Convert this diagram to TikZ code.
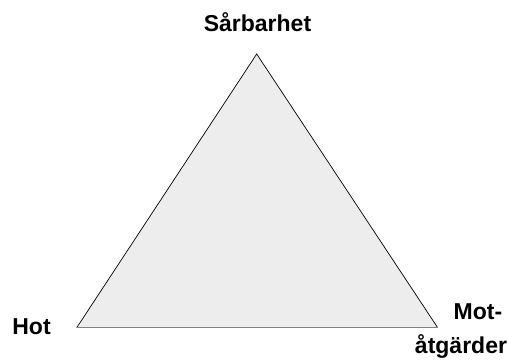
\documentclass[tikz,border=0pt]{standalone}
\usepackage{fontspec}
\setmainfont{Liberation Sans}
\usetikzlibrary{positioning}
\definecolor{trifill}{rgb}{0.93,0.93,0.93}
\tikzset{
  cornerlabel/.style={font=\fontsize{23}{34}\selectfont\bfseries, align=center, inner sep=0pt},
  triside/.style={draw=black, line width=0.7pt},
  tribase/.style={draw=gray, line width=1.1pt}
}
\begin{document}
\begin{tikzpicture}[x=1pt,y=-1pt]
\useasboundingbox (0,0) rectangle (508,361);
\coordinate (apex) at (256.7,54);
\coordinate (left) at (76.7,327.7);
\coordinate (right) at (437.7,327.7);
\fill[trifill] (apex) -- (left) -- (right) -- cycle;
\draw[triside] (left) -- (apex) -- (right);
\draw[tribase] (left) -- (right);
\node[cornerlabel, anchor=base] (sarbarhet) at (257.5,32) {Sårbarhet};
\node[cornerlabel, anchor=base] (hot) at (31.5,334) {Hot};
\node[cornerlabel, anchor=base] (mot) at (478,319) {Mot-};
\node[cornerlabel, anchor=base] (atgarder) at (461,353) {åtgärder};
\end{tikzpicture}
\end{document}
